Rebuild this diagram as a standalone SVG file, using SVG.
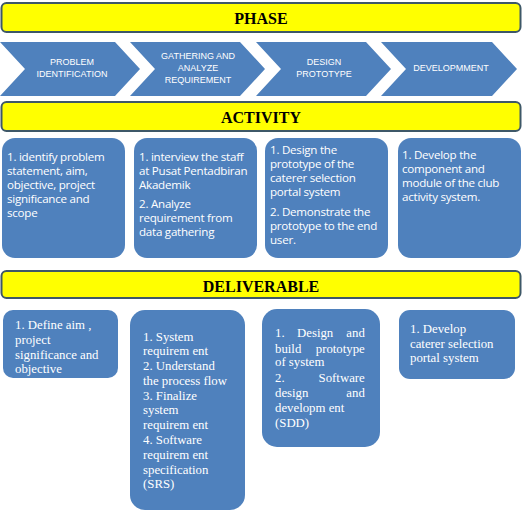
<svg xmlns="http://www.w3.org/2000/svg" width="524" height="514" viewBox="0 0 524 514">
<style>
.bar{fill:#ffff00;stroke:#3e5868;stroke-width:2}
.bt{font-family:"Liberation Serif",serif;font-weight:bold;font-size:16px;fill:#000;text-anchor:middle}
.chev{fill:#4f81bd}
.ct{font-family:"Liberation Sans",Arial,sans-serif;font-size:9px;fill:#fff;text-anchor:middle}
.box{fill:#4f81bd}
.at{font-family:"Open Sans","Liberation Sans",sans-serif;font-size:11.6px;fill:#fff;letter-spacing:-0.25px}
.dt{font-family:"Liberation Serif",serif;font-size:12.8px;fill:#fff}
</style>
<rect width="524" height="514" fill="#fff"/>
<g id="phase-bar"><rect class="bar" x="1.5" y="3" width="519" height="29" rx="5"/><text class="bt" x="261" y="24">PHASE</text></g>
<g id="phase1"><polygon class="chev" points="0,42 115,42 140,69 115,96 0,96 25,69"/><text class="ct" x="72" y="65">PROBLEM</text><text class="ct" x="72" y="77">IDENTIFICATION</text></g>
<g id="phase2"><polygon class="chev" points="130,42 240,42 265,69 240,96 130,96 155,69"/><text class="ct" x="198" y="59">GATHERING AND</text><text class="ct" x="198" y="71">ANALYZE</text><text class="ct" x="198" y="83">REQUIREMENT</text></g>
<g id="phase3"><polygon class="chev" points="256,42 366,42 391,69 366,96 256,96 281,69"/><text class="ct" x="324" y="65">DESIGN</text><text class="ct" x="324" y="77">PROTOTYPE</text></g>
<g id="phase4"><polygon class="chev" points="381,42 492,42 517,69 492,96 381,96 406,69"/><text class="ct" x="451" y="71">DEVELOPMMENT</text></g>
<g id="activity-bar"><rect class="bar" x="1.5" y="102" width="519" height="29" rx="5"/><text class="bt" x="261" y="123">ACTIVITY</text></g>
<g id="act1"><rect class="box" x="2" y="138" width="123" height="120" rx="13"/>
<text class="at" x="7"><tspan x="7" y="161">1. identify problem</tspan><tspan x="7" y="175">statement, aim,</tspan><tspan x="7" y="189">objective, project</tspan><tspan x="7" y="203">significance and</tspan><tspan x="7" y="217">scope</tspan></text></g>
<g id="act2"><rect class="box" x="134" y="138" width="123" height="120" rx="13"/>
<text class="at"><tspan x="139" y="161">1. interview the staff</tspan><tspan x="139" y="175">at Pusat Pentadbiran</tspan><tspan x="139" y="189">Akademik</tspan><tspan x="139" y="208">2. Analyze</tspan><tspan x="139" y="222">requirement from</tspan><tspan x="139" y="236">data gathering</tspan></text></g>
<g id="act3"><rect class="box" x="265" y="138" width="123" height="120" rx="13"/>
<text class="at"><tspan x="270" y="154">1. Design the</tspan><tspan x="270" y="168">prototype of the</tspan><tspan x="270" y="182">caterer selection</tspan><tspan x="270" y="196">portal system</tspan><tspan x="270" y="216">2. Demonstrate the</tspan><tspan x="270" y="230">prototype to the end</tspan><tspan x="270" y="244">user.</tspan></text></g>
<g id="act4"><rect class="box" x="398" y="138" width="123" height="120" rx="13"/>
<text class="at"><tspan x="402" y="159">1. Develop the</tspan><tspan x="402" y="173">component and</tspan><tspan x="402" y="187">module of the  club</tspan><tspan x="402" y="201">activity system.</tspan></text></g>
<g id="deliverable-bar"><rect class="bar" x="1.5" y="271" width="519" height="27" rx="5"/><text class="bt" x="261" y="292">DELIVERABLE</text></g>
<g id="del1"><rect class="box" x="3" y="310" width="115" height="68" rx="10"/>
<text class="dt"><tspan x="15" y="329">1. Define aim ,</tspan><tspan x="15" y="344">project</tspan><tspan x="15" y="359">significance and</tspan><tspan x="15" y="373">objective</tspan></text></g>
<g id="del2"><rect class="box" x="130" y="310" width="115" height="200" rx="15"/>
<text class="dt"><tspan x="143" y="341">1. System</tspan><tspan x="143" y="355">requirem ent</tspan><tspan x="143" y="370">2. Understand</tspan><tspan x="143" y="385">the process flow</tspan><tspan x="143" y="400">3. Finalize</tspan><tspan x="143" y="414">system</tspan><tspan x="143" y="429">requirem ent</tspan><tspan x="143" y="444">4. Software</tspan><tspan x="143" y="459">requirem ent</tspan><tspan x="143" y="474">specification</tspan><tspan x="143" y="488">(SRS)</tspan></text></g>
<g id="del3"><rect class="box" x="262" y="309" width="118" height="138" rx="15"/>
<text class="dt"><tspan x="275" y="337">1.</tspan><tspan x="297" y="337">Design</tspan><tspan x="368" y="337" text-anchor="end">and</tspan>
<tspan x="275" y="353">build</tspan><tspan x="368" y="353" text-anchor="end">prototype</tspan>
<tspan x="275" y="366">of system</tspan>
<tspan x="275" y="382">2.</tspan><tspan x="368" y="382" text-anchor="end">Software</tspan>
<tspan x="275" y="397">design</tspan><tspan x="368" y="397" text-anchor="end">and</tspan>
<tspan x="275" y="412">developm ent</tspan>
<tspan x="275" y="427">(SDD)</tspan></text></g>
<g id="del4"><rect class="box" x="399" y="310" width="116" height="69" rx="11"/>
<text class="dt"><tspan x="410" y="333">1. Develop</tspan><tspan x="410" y="348">caterer selection</tspan><tspan x="410" y="362">portal system</tspan></text></g>
<g id="connectors"/>
</svg>
